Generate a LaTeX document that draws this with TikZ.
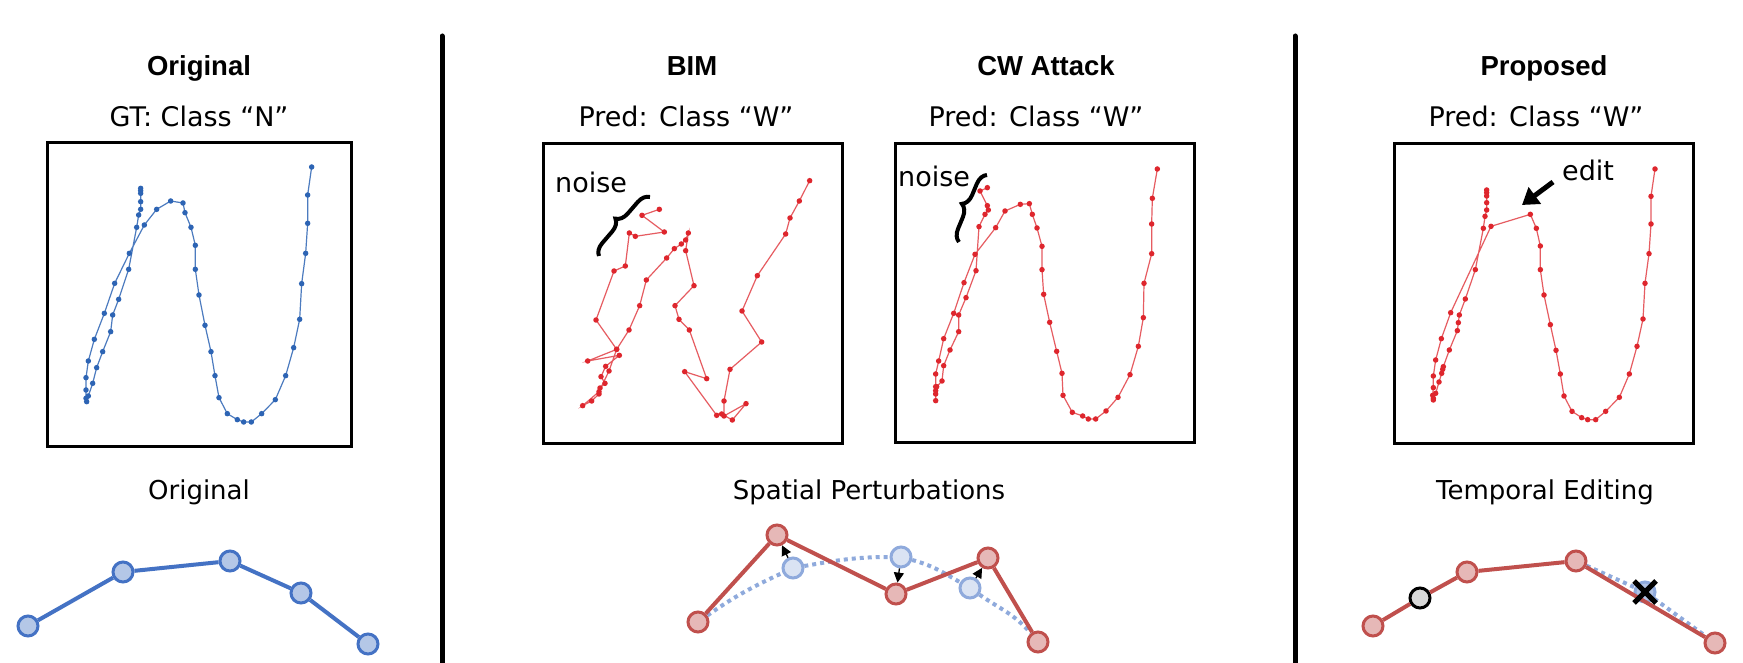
\documentclass[tikz,border=0pt]{standalone}
\usepackage{fontspec}
\setmainfont{DejaVu Sans}
\newfontfamily\headfont{Liberation Sans}
\usetikzlibrary{arrows.meta,decorations.pathreplacing}
\definecolor{trajblue}{RGB}{45,100,180}
\definecolor{trajred}{RGB}{222,38,45}
\definecolor{obluestroke}{RGB}{68,114,196}
\definecolor{obluefill}{RGB}{180,199,231}
\definecolor{lbluestroke}{RGB}{143,170,220}
\definecolor{lbluefill}{RGB}{218,227,243}
\definecolor{oredstroke}{RGB}{192,80,77}
\definecolor{oredfill}{RGB}{230,184,183}
\definecolor{grayfill}{RGB}{217,217,217}
\tikzset{
  frame/.style={draw=black, line width=3pt, minimum width=299pt, minimum height=299pt, inner sep=0pt},
  divider/.style={line width=5pt, line cap=round},
  header/.style={font=\fontsize{27.5}{32}\headfont\bfseries, anchor=base, inner sep=0pt},
  sub/.style={font=\fontsize{27}{32}\selectfont, anchor=base, inner sep=0pt},
  lab/.style={font=\fontsize{26}{30}\selectfont, anchor=base, inner sep=0pt},
  note/.style={font=\fontsize{27}{32}\selectfont, anchor=base west, inner sep=0pt},
  tblue/.style={trajblue!85, line width=1.2pt},
  tred/.style={trajred!75, line width=1.2pt},
  bmark/.style={mark=*, mark size=2.1pt, mark options={draw=trajblue, fill=trajblue}},
  rmark/.style={mark=*, mark size=2.1pt, mark options={draw=trajred, fill=trajred}},
  zoomed/.style={x=0.33333pt, y=-0.33333pt},
  onode/.style={circle, draw=obluestroke, fill=obluefill, line width=3pt, minimum size=20pt, inner sep=0pt},
  rnode/.style={circle, draw=oredstroke, fill=oredfill, line width=3pt, minimum size=20pt, inner sep=0pt},
  lbnode/.style={circle, draw=lbluestroke, fill=lbluefill, line width=3pt, minimum size=20pt, inner sep=0pt},
  gnode/.style={circle, draw=black, fill=grayfill, line width=3pt, minimum size=20pt, inner sep=0pt},
  oline/.style={draw=obluestroke, line width=4pt},
  rline/.style={draw=oredstroke, line width=4pt},
  dotline/.style={draw=lbluestroke, line width=4pt, dash pattern=on 4pt off 4pt},
  brace/.style={decorate, decoration={brace, amplitude=12pt}, line width=4pt},
  fatarrow/.style={line width=5pt, -{Triangle[length=16pt, width=20pt]}},
  smallarrow/.style={line width=1.3pt, -{Triangle[length=10pt, width=10pt]}},
}
\begin{document}
\begin{tikzpicture}[x=1pt, y=-1pt]
\useasboundingbox[fill=white] (0,0) rectangle (1743,663);

% dividers
\coordinate (d1t) at (442,36); \coordinate (d1b) at (442,663);
\coordinate (d2t) at (1295,36); \coordinate (d2b) at (1295,663);
\draw[divider] (d1t) -- (d1b);
\draw[divider] (d2t) -- (d2b);

% headers
\node[header] (h1) at (199,76) {Original};
\node[sub] (s1) at (199,127) {GT: Class “N”};
\node[header] (h2) at (692,76) {BIM};
\node[sub] (s2) at (686,127) {Pred: Class “W”};
\node[header] (h3) at (1046,76) {CW Attack};
\node[sub] (s3) at (1036,127) {Pred: Class “W”};
\node[header] (h4) at (1544,76) {Proposed};
\node[sub] (s4) at (1536,127) {Pred: Class “W”};

% frames
\node[frame, minimum width=304pt, minimum height=303pt] (box1) at (199,294.5) {};
\node[frame] (box2) at (692.5,293.5) {};
\node[frame] (box3) at (1044.5,293) {};
\node[frame] (box4) at (1543.5,293.5) {};

% original trajectory
\begin{scope}[shift={(0,0)}, zoomed]
\draw[tblue] plot[bmark] coordinates {(422,565) (422,572) (422,580) (422,605) (422,628) (416,645) (410,682) (386,808) (356,898) (338,945) (332,995) (308,1055) (290,1103) (278,1150) (265,1188) (260,1205) (258,1195) (258,1170) (258,1133) (265,1083) (283,1018) (313,940) (344,850) (388,760) (433,675) (470,628) (512,603) (549,609) (555,638) (573,682) (586,736) (586,808) (597,885) (615,976) (633,1055) (645,1127) (657,1193) (682,1241) (712,1259) (731,1266) (754,1266) (785,1241) (826,1199) (857,1127) (881,1043) (899,958) (905,851) (917,760) (923,670) (923,585) (935,501)};
\end{scope}

% BIM trajectory
\begin{scope}[shift={(520,120)}, zoomed]
\draw[tred] plot[rmark] coordinates {(418,268) (366,286) (433,336) (346,349) (328,339) (316,438) (282,453) (228,600) (290,688) (203,723) (298,706) (257,739) (243,770) (255,790) (240,804) (237,822) (215,843) (188,857) (237,815) (267,753) (290,688) (327,630) (359,557) (379,480) (440,414) (463,386) (484,372) (497,360) (505,339) (497,392) (522,497) (465,557) (477,598) (508,630) (560,776) (494,755) (590,886) (605,882) (637,900) (678,851) (612,888) (612,843) (630,748) (725,666) (666,573) (712,467) (797,342) (810,294) (838,243) (869,182)};
\end{scope}

% CW trajectory
\begin{scope}[shift={(880,120)}, zoomed]
\draw[tred] plot[rmark] coordinates {(322,203) (300,213) (322,257) (325,270) (315,283) (297,320) (288,452) (258,533) (236,585) (236,635) (210,690) (191,737) (186,783) (170,800) (167,812) (167,822) (167,842) (167,800) (167,762) (176,723) (191,656) (221,580) (252,488) (285,403) (347,323) (375,273) (421,253) (448,251) (457,283) (471,324) (486,379) (486,449) (491,523) (509,607) (530,694) (546,760) (549,826) (577,877) (608,888) (625,897) (647,897) (678,873) (714,832) (750,764) (775,679) (790,593) (792,490) (815,401) (815,312) (817,235) (832,147)};
\end{scope}

% Proposed trajectory
\begin{scope}[shift={(1370,120)}, zoomed]
\draw[tred] plot[rmark] coordinates {(350,210) (350,218) (350,228) (350,248) (350,270) (345,289) (340,325) (316,449) (286,537) (268,585) (265,608) (262,632) (238,690) (220,740) (218,748) (215,760) (207,786) (197,820) (190,835) (190,840) (188,826) (190,803) (190,768) (197,720) (214,656) (242,578) (363,319) (481,283) (499,325) (511,378) (511,449) (522,525) (541,614) (558,691) (571,762) (582,828) (606,874) (635,893) (653,899) (677,899) (707,874) (748,832) (778,762) (801,679) (819,597) (825,490) (837,401) (843,312) (843,229) (855,147)};
\end{scope}

% noise labels and braces
\node[note] (n1) at (555,193) {noise};
\coordinate (b1s) at (599,256); \coordinate (b1e) at (650,197);
\draw[brace] (b1s) -- (b1e);
\node[note] (n2) at (898,187) {noise};
\coordinate (b2s) at (959,242); \coordinate (b2e) at (987,175);
\draw[brace] (b2s) -- (b2e);

% edit
\node[note] (ed) at (1562,181) {edit};
\coordinate (ea) at (1553,182); \coordinate (eb) at (1522,205);
\draw[fatarrow] (ea) -- (eb);

% bottom labels
\node[lab] (l1) at (199,499) {Original};
\node[lab] (l2) at (869,499) {Spatial Perturbations};
\node[lab] (l3) at (1545,499) {Temporal Editing};

% original chain
\node[onode] (o1) at (28,626) {};
\node[onode] (o2) at (123,572) {};
\node[onode] (o3) at (230,561) {};
\node[onode] (o4) at (301,593) {};
\node[onode] (o5) at (368,644) {};
\draw[oline] (o1) -- (o2) -- (o3) -- (o4) -- (o5);

% spatial perturbations
\node[lbnode] (p1) at (793,568) {};
\node[lbnode] (p2) at (901,557) {};
\node[lbnode] (p3) at (970,588) {};
\node[rnode] (r1) at (698,622) {};
\node[rnode] (r2) at (777,535) {};
\node[rnode] (r3) at (896,594) {};
\node[rnode] (r4) at (988,558) {};
\node[rnode] (r5) at (1038,642) {};
\draw[dotline] (r1) to[out=35, in=205] (p1) to[out=10, in=180] (p2) to[out=-15, in=150] (p3) to[out=-35, in=130] (r5);
\draw[rline] (r1) -- (r2) -- (r3) -- (r4) -- (r5);
\draw[smallarrow] (p1) -- (r2);
\draw[smallarrow] (p2) -- (r3);
\draw[smallarrow] (p3) -- (r4);

% temporal editing
\node[rnode] (t1) at (1373,626) {};
\node[rnode] (t2) at (1467,572) {};
\node[rnode] (t3) at (1576,561) {};
\node[rnode] (t4) at (1715,643) {};
\node[gnode] (g1) at (1420,598) {};
\node[lbnode, draw=lbluestroke, fill=lbluestroke!70] (tb) at (1645,592) {};
\draw[dotline] (t3) -- (tb) -- (t4);
\draw[rline] (t1) -- (g1) -- (t2) -- (t3) -- (t4);
\coordinate (x1) at (1634,581); \coordinate (x2) at (1656,603);
\coordinate (x3) at (1634,603); \coordinate (x4) at (1656,581);
\draw[line width=5pt] (x1) -- (x2);
\draw[line width=5pt] (x3) -- (x4);
\end{tikzpicture}
\end{document}
